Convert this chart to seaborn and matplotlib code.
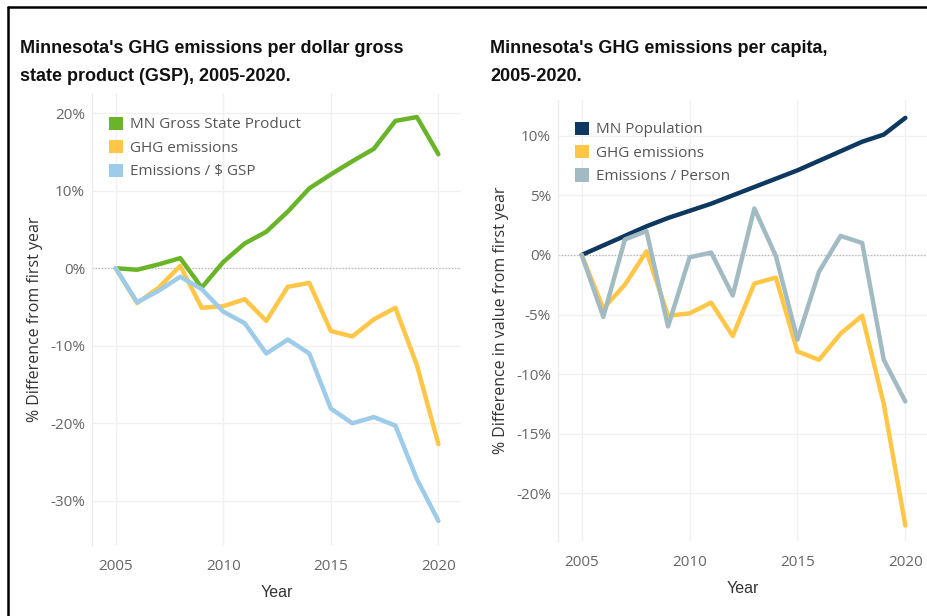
import matplotlib
matplotlib.use("Agg")
import matplotlib.pyplot as plt
from matplotlib.patches import Patch
from matplotlib.lines import Line2D
from matplotlib.ticker import FuncFormatter, FixedLocator
import seaborn as sns
import pandas as pd

years = list(range(2005, 2021))
gsp = [0.0, -0.2, 0.5, 1.3, -2.5, 0.8, 3.2, 4.7, 7.3, 10.3, 12.1, 13.8, 15.4, 19.0, 19.5, 14.7]
ghg = [0.0, -4.5, -2.5, 0.3, -5.1, -4.9, -4.0, -6.8, -2.4, -1.9, -8.1, -8.8, -6.6, -5.1, -12.5, -22.7]
ghg_per_gsp = [0.0, -4.4, -2.9, -1.1, -2.7, -5.6, -7.1, -11.0, -9.2, -11.0, -18.1, -20.0, -19.2, -20.3, -27.2, -32.6]
population = [0.0, 0.8, 1.6, 2.4, 3.1, 3.7, 4.3, 5.0, 5.7, 6.4, 7.1, 7.9, 8.7, 9.5, 10.1, 11.5]
ghg_per_person = [0.0, -5.2, 1.3, 2.0, -6.0, -0.2, 0.2, -3.4, 3.9, -0.1, -7.1, -1.4, 1.6, 1.0, -8.8, -12.3]

left_names = ["MN Gross State Product", "GHG emissions", "Emissions / $ GSP"]
right_names = ["MN Population", "GHG emissions", "Emissions / Person"]
left_colors = ["#6ab42a", "#ffc648", "#9dcbea"]
right_colors = ["#0e3860", "#ffc648", "#a2bbc2"]
left_ticks = [20, 10, 0, -10, -20, -30]
right_ticks = [10, 5, 0, -5, -10, -15, -20]
x_ticks = [2005, 2010, 2015, 2020]

titles = ["Minnesota's GHG emissions per dollar gross\nstate product (GSP), 2005-2020.",
          "Minnesota's GHG emissions per capita,\n2005-2020."]
ylabels = ["% Difference from first year", "% Difference in value from first year"]

sns.set_theme(style="white")
title_font = "Liberation Sans"
body_font = "Open Sans"
plt.rcParams["font.family"] = [body_font, "DejaVu Sans"]

def long_df(names, series):
    rows = []
    for n, s in zip(names, series):
        for y, v in zip(years, s):
            rows.append({"Year": y, "Value": v, "Series": n})
    return pd.DataFrame(rows)

fig = plt.figure(figsize=(9.28, 6.16), dpi=100)
fig.patch.set_facecolor("white")

ax1 = fig.add_axes([92/928, 1-545/616, (461-92)/928, (545-93)/616])
ax2 = fig.add_axes([558/928, 1-541/616, (928-558)/928, (541-100)/616])

configs = [
    (ax1, left_names, [gsp, ghg, ghg_per_gsp], left_colors, left_ticks, (-35.7, 22.6), ylabels[0], 0.968),
    (ax2, right_names, [population, ghg, ghg_per_person], right_colors, right_ticks, (-24.0, 13.0), ylabels[1], 0.972),
]

for ax, names, series, colors, yt, ylim, ylab, legy in configs:
    df = long_df(names, series)
    ax.axhline(0, color="#b5b5b5", lw=0.9, ls=(0, (1, 1.5)), zorder=1)
    sns.lineplot(data=df, x="Year", y="Value", hue="Series", hue_order=names,
                 palette=dict(zip(names, colors)), lw=3.2, ax=ax, legend=False,
                 zorder=3)
    ax.set_xlim(2003.9, 2021.05)
    ax.set_ylim(*ylim)
    ax.xaxis.set_major_locator(FixedLocator(x_ticks))
    ax.yaxis.set_major_locator(FixedLocator(yt))
    ax.yaxis.set_major_formatter(FuncFormatter(lambda v, p: f"{int(round(v))}%"))
    ax.grid(True, color="#f0f0f0", lw=1.0)
    for s in ["top", "right", "bottom"]:
        ax.spines[s].set_visible(False)
    ax.spines["left"].set_color("#ececec")
    ax.spines["left"].set_linewidth(1.0)
    ax.tick_params(axis="both", length=0, labelsize=11, labelcolor="#666666")
    ax.tick_params(axis="x", pad=10)
    ax.tick_params(axis="y", pad=5)
    ax.set_xlabel("Year", fontsize=11.5, color="#333333", family=[title_font, "DejaVu Sans"], labelpad=8)
    ax.set_ylabel(ylab, fontsize=11.5, color="#333333", labelpad=5)
    handles = [Patch(facecolor=c, edgecolor="none") for c in colors]
    leg = ax.legend(handles, names, loc="upper left", bbox_to_anchor=(0.02, legy),
                    frameon=False, fontsize=11, handlelength=0.95, handleheight=0.95,
                    handletextpad=0.45, labelspacing=0.5, borderaxespad=0.2)
    for t in leg.get_texts():
        t.set_color("#555555")

fig.text(20/928, 1-40/616, titles[0], ha="left", va="top", fontsize=13, fontweight="bold",
         family=[title_font, "DejaVu Sans"], color="#111111", linespacing=1.85)
fig.text(490/928, 1-40/616, titles[1], ha="left", va="top", fontsize=13, fontweight="bold",
         family=[title_font, "DejaVu Sans"], color="#111111", linespacing=1.85)

# screenshot frame (top and left edges)
fig.add_artist(Line2D([8/928, 1], [1-6.5/616, 1-6.5/616], transform=fig.transFigure, color="black", lw=1.8))
fig.add_artist(Line2D([8/928, 8/928], [0, 1-6.5/616], transform=fig.transFigure, color="black", lw=1.8))

fig.savefig("out.png", dpi=100, facecolor="white")
